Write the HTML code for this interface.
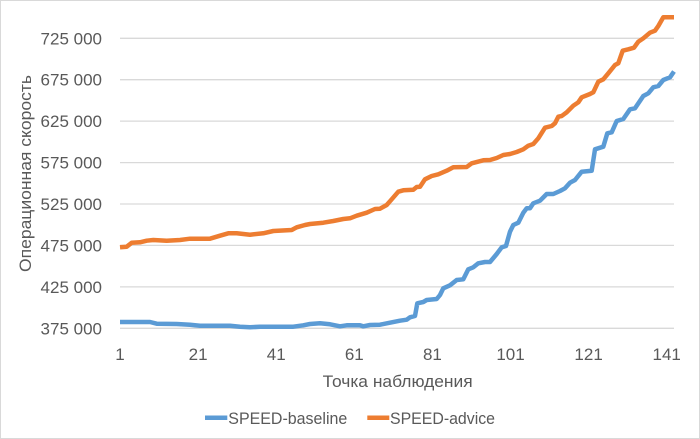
<!DOCTYPE html>
<html>
<head>
<meta charset="utf-8">
<style>
html,body{margin:0;padding:0;background:#fff;}
svg{display:block;}
text{font-family:"Liberation Sans","DejaVu Sans",sans-serif;fill:#595959;}
</style>
</head>
<body>
<svg width="700" height="439" viewBox="0 0 700 439" xmlns="http://www.w3.org/2000/svg">
<rect x="0.5" y="0.5" width="699" height="438" fill="#fff" stroke="#d9d9d9" stroke-width="1"/>
<g stroke="#d9d9d9" stroke-width="1.3">
<line x1="120" x2="674" y1="38.3" y2="38.3"/>
<line x1="120" x2="674" y1="79.7" y2="79.7"/>
<line x1="120" x2="674" y1="121.1" y2="121.1"/>
<line x1="120" x2="674" y1="162.6" y2="162.6"/>
<line x1="120" x2="674" y1="204" y2="204"/>
<line x1="120" x2="674" y1="245.4" y2="245.4"/>
<line x1="120" x2="674" y1="286.9" y2="286.9"/>
<line x1="120" x2="674" y1="328.3" y2="328.3"/>
</g>
<g font-size="17" text-anchor="end">
<text x="102" y="44.3">725 000</text>
<text x="102" y="85.7">675 000</text>
<text x="102" y="127.1">625 000</text>
<text x="102" y="168.6">575 000</text>
<text x="102" y="210">525 000</text>
<text x="102" y="251.4">475 000</text>
<text x="102" y="292.9">425 000</text>
<text x="102" y="334.3">375 000</text>
</g>
<g font-size="17" text-anchor="middle">
<text x="120" y="360">1</text>
<text x="198.1" y="360">21</text>
<text x="276.2" y="360">41</text>
<text x="354.3" y="360">61</text>
<text x="432.4" y="360">81</text>
<text x="510.5" y="360">101</text>
<text x="588.6" y="360">121</text>
<text x="666.7" y="360">141</text>
</g>
<text x="322.7" y="387" font-size="17" textLength="150" lengthAdjust="spacingAndGlyphs">Точка наблюдения</text>
<text transform="translate(31,272) rotate(-90)" x="0" y="0" font-size="17" textLength="197" lengthAdjust="spacingAndGlyphs">Операционная скорость</text>

<polyline fill="none" stroke="#ED7D31" stroke-width="4.5" stroke-linejoin="round" stroke-linecap="butt" points="120,247.3 126.7,246.7 131.7,242.7 140,242.3 146.7,240.7 153.3,240 166.7,240.7 180,240 190,238.7 210,238.7 220,235.7 228.3,233.3 236.7,233.3 250,234.7 263.3,233.3 273.3,231 291.7,230 296.7,227.3 305,225 310,224 323.3,222.7 333.3,221 343.3,219 350,218.3 356.7,215.7 366.7,212.7 375,209 380,208.7 386.7,205 391.7,199.3 398.3,191.7 403.3,190.3 413.3,189.7 416.7,187 420,186.7 425,179.3 431.7,176 438.3,174.3 446.7,170.7 453.3,167.3 466.7,167 471.7,163.3 483.3,160.3 490,160 496.7,158 503.3,155 510,154 516.7,152 523.3,149.3 528.3,145.7 533.3,144 538.3,138.3 545,127.7 551.7,126 555,123.3 558.3,116.7 561.7,116 566.7,112.3 573.3,105.7 578.3,102.3 581.7,97.3 590,94 593.3,92.3 598.3,81.7 603.3,79.3 608.3,73.3 615,65 618.3,63.3 622.7,50.7 628.3,49.3 634,47.7 638.3,41.7 643.3,38.3 650,32.7 655,30.7 658.3,26 663.3,17.3 674,17.3"/>

<polyline fill="none" stroke="#5B9BD5" stroke-width="4.5" stroke-linejoin="round" stroke-linecap="butt" points="120,322 150,322 156.7,323.7 176.7,324 190,324.7 200,325.7 230,325.7 240,326.7 250,327.3 260,326.7 293.3,326.7 303.3,325.3 310,324 320,323.3 330,324.3 340,326.3 346.7,325.3 360,325.3 363.3,326.3 370,325 380,324.7 390,322.7 400,320.7 406.7,319.7 410,317.3 415,316 417.3,303.3 423.3,302 426.7,300 436.7,299 440,295 443.3,288.3 450,285.3 456.7,280 463.3,279.3 468.3,269.3 473.3,267.3 478.3,263.3 485,262 490,262 496.7,254 501.7,247.3 506,246 510,231.7 513.3,225 518.3,222.7 523.3,212.7 526.7,208.3 530,208.3 533.3,203.3 540,200.7 546.7,194 553.3,194 560,191 565,188.3 570,182.7 575,180 581.7,171.7 591.7,170.7 595,149.3 603.3,146.7 607.3,133.3 611.7,132.3 616.7,121 623.3,119 630,109.3 635,108.3 643.3,96 648.3,93.3 653.3,87.3 658.3,86 663.3,80 670,77.3 674,71.5"/>

<line x1="205" x2="227.3" y1="417.7" y2="417.7" stroke="#5B9BD5" stroke-width="4.5"/>
<text x="228.3" y="424" font-size="17" textLength="119" lengthAdjust="spacingAndGlyphs">SPEED-baseline</text>
<line x1="367.3" x2="389.3" y1="417.7" y2="417.7" stroke="#ED7D31" stroke-width="4.5"/>
<text x="390" y="424" font-size="17" textLength="105" lengthAdjust="spacingAndGlyphs">SPEED-advice</text>
</svg>
</body>
</html>
